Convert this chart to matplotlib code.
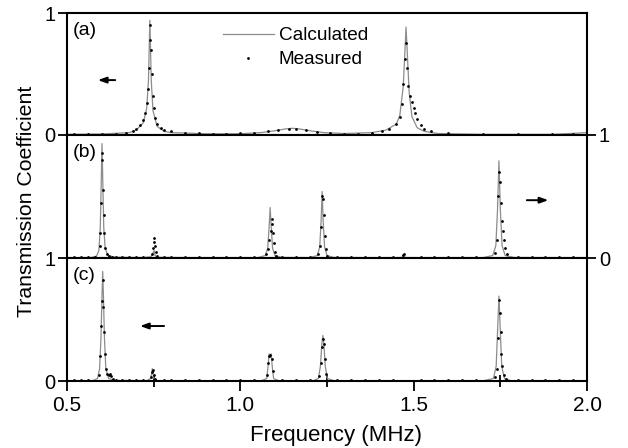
import matplotlib
matplotlib.use("Agg")
import matplotlib.pyplot as plt
from matplotlib.lines import Line2D

plt.rcParams['font.family'] = ['Liberation Sans', 'DejaVu Sans']

# ── data (frequency in MHz, transmission coefficient) ─────────────
calc_a_x = [0.50, 0.60, 0.68, 0.70, 0.72, 0.73, 0.735, 0.739, 0.743, 0.748, 0.76, 0.78, 0.80,
            0.90, 1.00, 1.06, 1.10, 1.13, 1.15, 1.17, 1.20, 1.24, 1.30, 1.38, 1.42, 1.45,
            1.46, 1.47, 1.475, 1.478, 1.482, 1.487, 1.495, 1.51, 1.53, 1.57, 1.70, 1.90, 1.97, 2.0]
calc_a_y = [0.005, 0.008, 0.02, 0.04, 0.10, 0.22, 0.45, 0.94, 0.45, 0.20, 0.07, 0.03, 0.02,
            0.01, 0.01, 0.02, 0.035, 0.05, 0.055, 0.05, 0.035, 0.02, 0.012, 0.02, 0.04, 0.09,
            0.16, 0.40, 0.70, 0.885, 0.65, 0.35, 0.15, 0.06, 0.03, 0.012, 0.005, 0.005, 0.015, 0.02]

meas_a_x = [0.52, 0.56, 0.60, 0.64, 0.67, 0.69, 0.70, 0.71, 0.72, 0.725, 0.73, 0.733, 0.736,
            0.738, 0.740, 0.742, 0.744, 0.747, 0.75, 0.755, 0.76, 0.77, 0.78, 0.80, 0.84, 0.88,
            0.92, 0.96, 1.00, 1.04, 1.08, 1.11, 1.14, 1.16, 1.19, 1.22, 1.26, 1.30, 1.34, 1.38,
            1.41, 1.43, 1.45, 1.46, 1.465, 1.47, 1.475, 1.478, 1.481, 1.485, 1.49, 1.495, 1.50,
            1.505, 1.51, 1.52, 1.53, 1.55, 1.60, 1.70, 1.80, 1.90, 1.96, 2.0]
meas_a_y = [0.01, 0.01, 0.01, 0.012, 0.015, 0.03, 0.05, 0.08, 0.12, 0.18, 0.26, 0.38, 0.55,
            0.78, 0.90, 0.70, 0.50, 0.32, 0.22, 0.14, 0.09, 0.06, 0.04, 0.03, 0.02, 0.015,
            0.012, 0.012, 0.015, 0.02, 0.03, 0.04, 0.05, 0.05, 0.04, 0.025, 0.015, 0.01, 0.012, 0.02,
            0.035, 0.05, 0.09, 0.15, 0.25, 0.42, 0.62, 0.75, 0.55, 0.40, 0.32, 0.27, 0.22,
            0.18, 0.13, 0.08, 0.05, 0.03, 0.015, 0.01, 0.008, 0.008, 0.012, 0.018]

calc_b_x = [0.50, 0.57, 0.585, 0.592, 0.596, 0.599, 0.601, 0.603, 0.606, 0.610, 0.618, 0.64,
            0.72, 0.742, 0.748, 0.751, 0.754, 0.76, 0.90, 1.05, 1.072, 1.079, 1.083, 1.086,
            1.089, 1.093, 1.100, 1.12, 1.20, 1.222, 1.229, 1.233, 1.236, 1.239, 1.243, 1.250,
            1.27, 1.45, 1.467, 1.470, 1.473, 1.49, 1.70, 1.728, 1.737, 1.742, 1.746, 1.750,
            1.755, 1.764, 1.79, 2.0]
calc_b_y = [0.002, 0.004, 0.015, 0.06, 0.25, 0.65, 0.93, 0.65, 0.25, 0.08, 0.02, 0.006,
            0.003, 0.01, 0.04, 0.06, 0.02, 0.005, 0.002, 0.003, 0.02, 0.08, 0.25, 0.41,
            0.25, 0.08, 0.02, 0.004, 0.003, 0.02, 0.09, 0.30, 0.54, 0.30, 0.09, 0.02,
            0.004, 0.002, 0.005, 0.025, 0.005, 0.002, 0.003, 0.02, 0.10, 0.40, 0.79, 0.40,
            0.10, 0.02, 0.004, 0.002]

meas_b_x = [0.58, 0.594, 0.596, 0.598, 0.600, 0.602, 0.604, 0.606, 0.608, 0.611, 0.615, 0.62,
            0.63, 0.745, 0.748, 0.750, 0.752, 0.754, 0.757, 0.76, 1.075, 1.08, 1.084, 1.088,
            1.090, 1.092, 1.094, 1.096, 1.099, 1.104, 1.225, 1.230, 1.233, 1.236, 1.238, 1.240,
            1.243, 1.246, 1.25, 1.468, 1.471, 1.735, 1.740, 1.744, 1.747, 1.749, 1.751, 1.754,
            1.757, 1.760, 1.764, 1.770]
meas_b_y = [0.01, 0.10, 0.20, 0.45, 0.85, 0.80, 0.55, 0.35, 0.20, 0.08, 0.03, 0.015,
            0.01, 0.03, 0.08, 0.13, 0.16, 0.10, 0.05, 0.02, 0.03, 0.07, 0.15, 0.22,
            0.32, 0.28, 0.20, 0.12, 0.05, 0.02, 0.03, 0.10, 0.25, 0.50, 0.48, 0.35,
            0.18, 0.07, 0.02, 0.025, 0.03, 0.04, 0.15, 0.50, 0.70, 0.62, 0.45, 0.30,
            0.22, 0.15, 0.08, 0.03]

calc_c_x = [0.50, 0.575, 0.588, 0.594, 0.598, 0.601, 0.603, 0.605, 0.608, 0.612, 0.62, 0.64,
            0.73, 0.741, 0.744, 0.746, 0.748, 0.751, 0.76, 1.06, 1.076, 1.080, 1.083, 1.086,
            1.089, 1.092, 1.096, 1.11, 1.21, 1.225, 1.231, 1.235, 1.238, 1.241, 1.245, 1.251,
            1.27, 1.70, 1.730, 1.738, 1.742, 1.746, 1.750, 1.754, 1.762, 1.78, 2.0]
calc_c_y = [0.002, 0.004, 0.02, 0.10, 0.35, 0.70, 0.89, 0.70, 0.35, 0.10, 0.02, 0.005,
            0.003, 0.02, 0.06, 0.10, 0.06, 0.02, 0.003, 0.002, 0.02, 0.12, 0.22, 0.19,
            0.22, 0.12, 0.02, 0.003, 0.002, 0.02, 0.12, 0.30, 0.37, 0.30, 0.12, 0.02,
            0.003, 0.002, 0.02, 0.12, 0.40, 0.69, 0.40, 0.12, 0.02, 0.003, 0.002]

meas_c_x = [0.592, 0.596, 0.599, 0.601, 0.603, 0.605, 0.607, 0.609, 0.612, 0.616, 0.620,
            0.624, 0.628, 0.632, 0.742, 0.745, 0.747, 0.750, 0.754, 1.078, 1.081, 1.084,
            1.087, 1.090, 1.093, 1.227, 1.232, 1.235, 1.238, 1.241, 1.244, 1.248, 1.735,
            1.740, 1.743, 1.746, 1.749, 1.751, 1.753, 1.756, 1.760, 1.766]
meas_c_y = [0.05, 0.20, 0.45, 0.65, 0.82, 0.60, 0.40, 0.22, 0.10, 0.06, 0.05,
            0.06, 0.04, 0.02, 0.03, 0.07, 0.09, 0.05, 0.02, 0.05, 0.15, 0.20,
            0.21, 0.18, 0.08, 0.04, 0.15, 0.28, 0.34, 0.30, 0.18, 0.06, 0.03,
            0.10, 0.35, 0.66, 0.55, 0.40, 0.22, 0.12, 0.05, 0.02]

# measured points sitting on the zero line in (b) and (c)
floor_x   = [0.52, 0.54, 0.56, 0.64, 0.66, 0.68, 0.70, 0.72, 0.78, 0.80, 0.84, 0.88, 0.92,
             0.96, 1.00, 1.04, 1.12, 1.16, 1.20, 1.28, 1.32, 1.36, 1.40, 1.44, 1.52, 1.56,
             1.60, 1.64, 1.68, 1.80, 1.84, 1.88, 1.92, 1.96]
floor_b_y = [0.01, 0.012, 0.01, 0.01, 0.012, 0.01, 0.01, 0.012, 0.01, 0.01, 0.012, 0.01, 0.01,
             0.012, 0.01, 0.01, 0.012, 0.01, 0.01, 0.012, 0.01, 0.01, 0.012, 0.01, 0.01, 0.012,
             0.01, 0.01, 0.012, 0.01, 0.01, 0.012, 0.01, 0.01]
floor_c_y = [0.008, 0.01, 0.008, 0.01, 0.008, 0.01, 0.008, 0.01, 0.008, 0.01, 0.008, 0.01, 0.008,
             0.01, 0.008, 0.01, 0.008, 0.01, 0.008, 0.01, 0.008, 0.01, 0.008, 0.01, 0.008, 0.01,
             0.008, 0.01, 0.008, 0.01, 0.008, 0.01, 0.008, 0.01]

x_ticks  = [0.5, 1.0, 1.5, 2.0]
x_minor  = [0.75, 1.25, 1.75]
x_labels = ['0.5', '1.0', '1.5', '2.0']

# ── figure ────────────────────────────────────────────
W, H = 628, 448
fig = plt.figure(figsize=(W / 100, H / 100), dpi=100)
L, R = 67 / W, 587 / W
ax_a = fig.add_axes([L, 1 - 135 / H, R - L, 122 / H])
ax_b = fig.add_axes([L, 1 - 258 / H, R - L, 123 / H])
ax_c = fig.add_axes([L, 1 - 381 / H, R - L, 123 / H])

GREY = '#8c8c8c'
line_kw = dict(color=GREY, lw=0.9, zorder=2)
dot_kw = dict(ls='none', marker='o', ms=2.0, mfc='black', mec='black', mew=0, zorder=3)

ax_a.plot(calc_a_x, calc_a_y, **line_kw)
ax_a.plot(meas_a_x, meas_a_y, **dot_kw)
ax_b.plot(calc_b_x, calc_b_y, **line_kw)
ax_b.plot(meas_b_x, meas_b_y, **dot_kw)
ax_b.plot(floor_x, floor_b_y, **dot_kw)
ax_c.plot(calc_c_x, calc_c_y, **line_kw)
ax_c.plot(meas_c_x, meas_c_y, **dot_kw)
ax_c.plot(floor_x, floor_c_y, **dot_kw)

for ax in (ax_a, ax_b, ax_c):
    ax.set_xlim(0.5, 2.0)
    ax.set_ylim(0, 1)
    for s in ax.spines.values():
        s.set_linewidth(1.5)
    ax.set_yticks([0, 1])
    ax.set_yticklabels(['0', '1'])
    ax.tick_params(axis='y', direction='out', length=6.5, width=1.3, labelsize=14.5, pad=2)

# panels (a) and (b) have no x ticks
for ax in (ax_a, ax_b):
    ax.set_xticks([])

ax_b.yaxis.tick_right()

ax_c.set_xticks(x_ticks)
ax_c.set_xticklabels(x_labels)
ax_c.set_xticks(x_minor, minor=True)
ax_c.tick_params(axis='x', which='major', direction='out', length=7, width=1.3,
                 labelsize=15, pad=4)
ax_c.tick_params(axis='x', which='minor', direction='inout', length=8, width=1.3)
ax_c.set_xlabel('Frequency (MHz)', fontsize=16)
ax_c.xaxis.set_label_coords(0.518, -0.36)

fig.text(27 / W, 1 - 201 / H, 'Transmission Coefficient', rotation=90, ha='center',
         va='center', fontsize=15.3)

# panel tags
for ax, tag in ((ax_a, '(a)'), (ax_b, '(b)'), (ax_c, '(c)')):
    ax.text(0.012, 0.86, tag, transform=ax.transAxes, fontsize=14, va='center')

# arrows showing which axis each panel uses
arr = dict(arrowstyle='-|>,head_length=0.5,head_width=0.18', color='black', lw=1.4)
ax_a.annotate('', xy=(0.054, 0.45), xytext=(0.098, 0.45),
              xycoords='axes fraction', arrowprops=arr)
ax_b.annotate('', xy=(0.931, 0.47), xytext=(0.879, 0.47),
              xycoords='axes fraction', arrowprops=arr)
ax_c.annotate('', xy=(0.135, 0.447), xytext=(0.192, 0.447),
              xycoords='axes fraction', arrowprops=arr)

handles = [Line2D([], [], color=GREY, lw=0.9),
           Line2D([], [], ls='none', marker='o', ms=2.0, mfc='black', mec='black', mew=0)]
ax_a.legend(handles, ['Calculated', 'Measured'], loc='upper left',
            bbox_to_anchor=(0.267, 1.025), frameon=False, fontsize=13.7,
            handlelength=2.68, handletextpad=0.26, labelspacing=0.35)

fig.savefig('out.png', dpi=100)
